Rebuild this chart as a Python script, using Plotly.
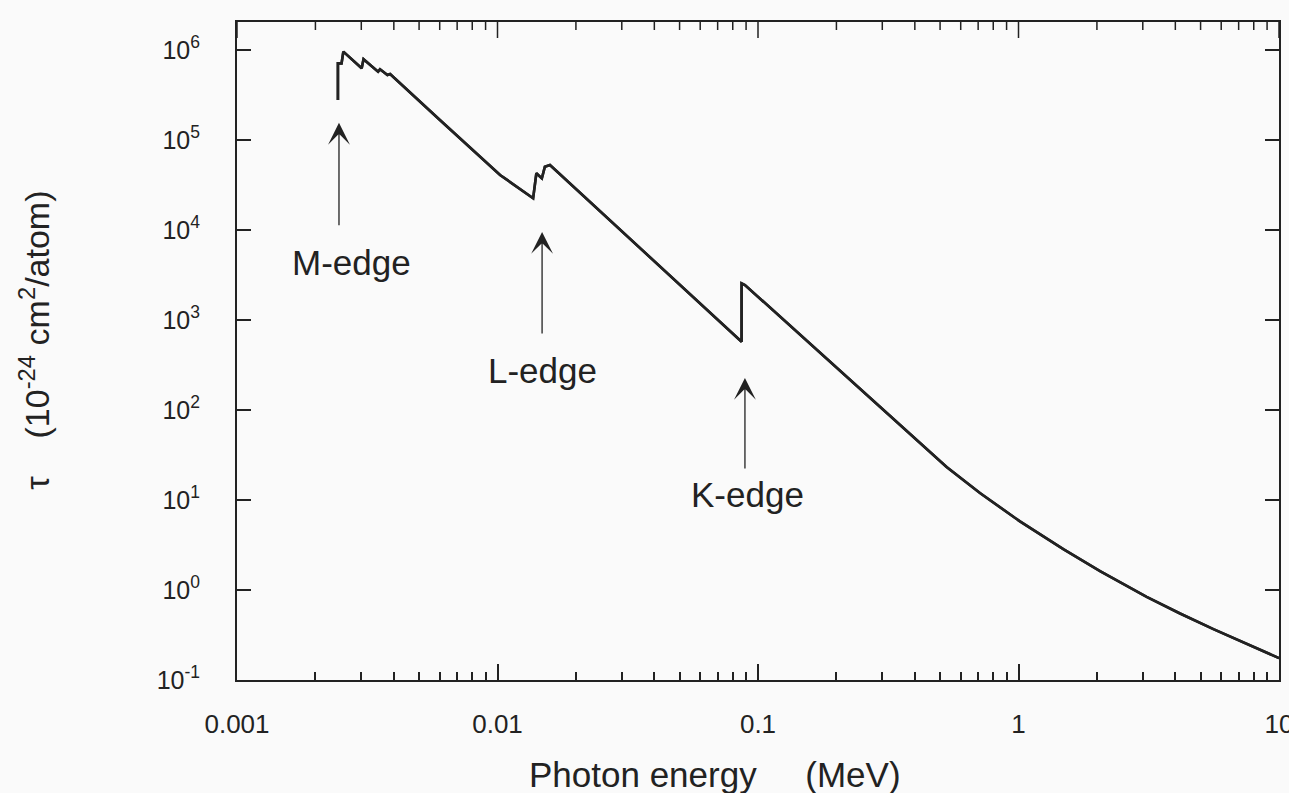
import plotly.graph_objects as go
import math

# Photoelectric cross section
energy_mev = [0.00244, 0.00244, 0.00252, 0.00256, 0.00301, 0.00306, 0.00348, 0.00354,
              0.00378, 0.00387, 0.00601, 0.01023, 0.0137, 0.0141, 0.0148, 0.0152, 0.0159,
              0.0865, 0.0865, 0.0891, 0.2938, 0.3945, 0.5297, 0.7112, 1.013,
              1.486, 2.056, 3.104, 4.17, 5.60, 7.52, 10.0]
tau = [2.78e5, 7.1e5, 7.1e5, 9.6e5, 6.27e5, 7.9e5, 5.74e5, 6.1e5,
       5.28e5, 5.41e5, 1.667e5, 4.09e4, 2.25e4, 4.27e4, 3.75e4, 5.05e4, 5.27e4,
       574, 2559, 2449, 108.8, 49.8, 23.3, 11.97, 5.78,
       2.84, 1.62, 0.840, 0.548, 0.367, 0.250, 0.175]

x_tickvals = [0.001, 0.01, 0.1, 1, 10]
x_ticktext = ["0.001", "0.01", "0.1", "1", "10"]
x_minor_tickvals = [m * d for d in x_tickvals[:-1] for m in range(2, 10)]
y_exponents = [-1, 0, 1, 2, 3, 4, 5, 6]
y_tickvals = [10.0 ** e for e in y_exponents]
y_ticktext = [f"10<sup>{e}</sup>" for e in y_exponents]

# edge labels: arrow head position, text position
edge_labels = ["M-edge", "L-edge", "K-edge"]
arrow_head_e = [0.002463, 0.01483, 0.0891]
arrow_head_tau = [1.55e5, 9.5e3, 227]
text_e = [0.002763, 0.01483, 0.0908]
text_tau = [4.4e3, 278, 11.4]
arrow_len_px = [104, 103, 92]

x_range_log = [-3, 1]
y_range_log = [-1, 6.311]

ink = "#222222"
bg = "#fafafa"
font_family = "Liberation Sans, Arial, Helvetica, sans-serif"
plot_h = 793 - 22 - 113

fig = go.Figure()
fig.add_trace(go.Scatter(x=energy_mev, y=tau, mode="lines",
                         line=dict(color=ink, width=2.6), showlegend=False))
fig.add_trace(go.Scatter(x=energy_mev, y=tau, mode="lines", xaxis="x2", yaxis="y",
                         line=dict(color=ink, width=2.6), showlegend=False,
                         hoverinfo="skip"))

# tick marks along the top edge (mirroring the bottom axis ticks), placed in
# paper fractions computed from the tick values and the axis range
span = x_range_log[1] - x_range_log[0]
for vals, length in [(x_tickvals, 16), (x_minor_tickvals, 8)]:
    for v in vals:
        frac = (math.log10(v) - x_range_log[0]) / span
        fig.add_shape(type="line", xref="paper", yref="paper",
                      x0=frac, x1=frac, y0=1.0, y1=1.0 - length / plot_h,
                      line=dict(color=ink, width=1.5), layer="above")

annotations = []
for lab, he, ht, te, tt, L in zip(edge_labels, arrow_head_e, arrow_head_tau,
                                 text_e, text_tau, arrow_len_px):
    annotations.append(dict(x=math.log10(he), y=math.log10(ht), xref="x", yref="y",
                            text="", showarrow=True, ax=0, ay=L,
                            arrowhead=3, arrowsize=2.8, arrowwidth=1.3,
                            arrowcolor=ink))
    annotations.append(dict(x=math.log10(te), y=math.log10(tt), xref="x", yref="y",
                            text=lab, showarrow=False,
                            font=dict(size=35, color=ink, family=font_family),
                            xanchor="center", yanchor="middle"))

annotations.append(dict(x=0.4587, y=-0.144, xref="paper", yref="paper",
                        text="Photon energy\u00a0\u00a0\u00a0\u00a0\u00a0(MeV)", showarrow=False,
                        font=dict(size=35, color=ink, family=font_family),
                        xanchor="center", yanchor="middle"))
annotations.append(dict(x=-0.194, y=0.517, xref="paper", yref="paper",
                        text="\u03c4\u00a0\u00a0\u00a0\u00a0(10<sup>-24</sup>\u00a0cm<sup>2</sup>/atom)",
                        showarrow=False, textangle=-90,
                        font=dict(size=34, color=ink, family=font_family),
                        xanchor="center", yanchor="middle"))

fig.update_layout(
    width=1289, height=793,
    margin=dict(l=237, r=10, t=22, b=113, autoexpand=False),
    paper_bgcolor=bg, plot_bgcolor=bg,
    font=dict(family=font_family, color=ink, size=25),
    annotations=annotations,
    showlegend=False,
)
fig.update_layout(
    xaxis=dict(type="log", range=x_range_log, tickmode="array",
               tickvals=x_tickvals, ticktext=x_ticktext,
               ticks="inside", ticklen=16, tickwidth=1.5, tickcolor=ink,
               showline=True, linecolor=ink, linewidth=2, mirror=True,
               showgrid=False, zeroline=False, automargin=False,
               ticklabelstandoff=20, ticklabeloverflow="allow",
               tickfont=dict(size=26, color=ink, family=font_family)),
    xaxis2=dict(type="log", range=x_range_log, overlaying="x", side="bottom", anchor="y",
                tickmode="array", tickvals=x_minor_tickvals, showticklabels=False,
                ticks="inside", ticklen=8, tickwidth=1.5, tickcolor=ink,
                showline=False, showgrid=False, zeroline=False, automargin=False),
    yaxis=dict(type="log", range=y_range_log, tickmode="array",
               tickvals=y_tickvals, ticktext=y_ticktext,
               ticks="inside", ticklen=14, tickwidth=1.5, tickcolor=ink,
               showline=True, linecolor=ink, linewidth=2, mirror="ticks",
               showgrid=False, zeroline=False, automargin=False,
               ticklabelstandoff=30,
               tickfont=dict(size=25, color=ink, family=font_family)),
)

fig.write_html("out.html")
